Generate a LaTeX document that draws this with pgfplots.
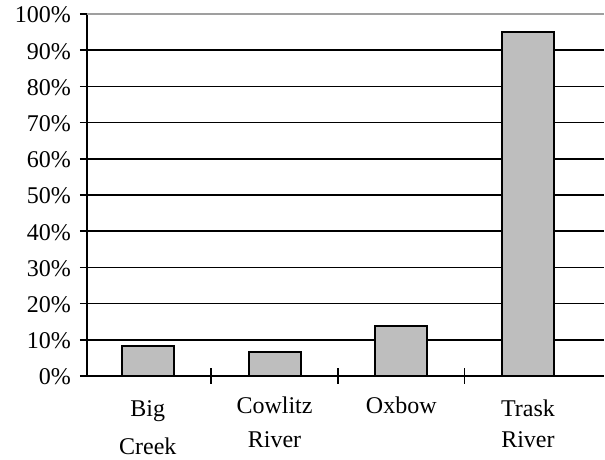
\documentclass[border=0pt]{standalone}
\usepackage{pgfplots}
\pgfplotsset{compat=1.18}
\usepackage{fontspec}
\setmainfont{Liberation Serif}
\definecolor{bargray}{RGB}{190,190,190}
\newcommand{\up}[1]{\raisebox{3bp}[\height]{#1}}
\begin{document}
\fontsize{24bp}{31bp}\selectfont
\begin{tikzpicture}
\useasboundingbox (0,0) rectangle (605bp,460bp);
\begin{axis}[
  at={(87bp,84bp)}, anchor=south west,
  scale only axis, width=517bp, height=362bp,
  xmin=-0.48, xmax=3.6, ymin=0, ymax=100,
  axis x line*=bottom, axis y line*=left,
  axis line style={black, line width=1.7pt},
  ytick={0,10,...,100},
  yticklabel={\pgfmathprintnumber{\tick}\%},
  /pgf/number format/assume math mode=true,
  ymajorgrids, grid style={black, line width=1.7pt},
  ytick style={black, line width=1.5pt},
  y tick label style={font=\fontsize{24bp}{24bp}\selectfont, xshift=-1bp, yshift=-1bp},
  xtick={0,1,2,3},
  xticklabels={Big\\[7bp]Creek, \up{Cowlitz}\\River, \up{Oxbow}, Trask\\River},
  x tick label style={align=center, font=\fontsize{24bp}{31bp}\selectfont, yshift=-9bp},
  xtick style={draw=none},
  major tick length=7bp,
  tick align=outside,
  extra x ticks={0.5,1.5,2.5},
  extra x tick labels={},
  extra x tick style={tick align=center, major tick length=15bp,
    xtick style={draw=black, line width=1.6pt}, xmajorgrids=false},
  ybar, bar width=0.41, bar shift=0pt,
  clip=false,
]
\addplot[fill=bargray, draw=black, line width=2pt] coordinates {
  (0,8.4) (1,6.7) (2,13.9) (3,95.1)
};
\draw[gray!75, line width=1.7pt] (axis cs:-0.48,100) -- (axis cs:3.6,100);
\end{axis}
\end{tikzpicture}
\end{document}
